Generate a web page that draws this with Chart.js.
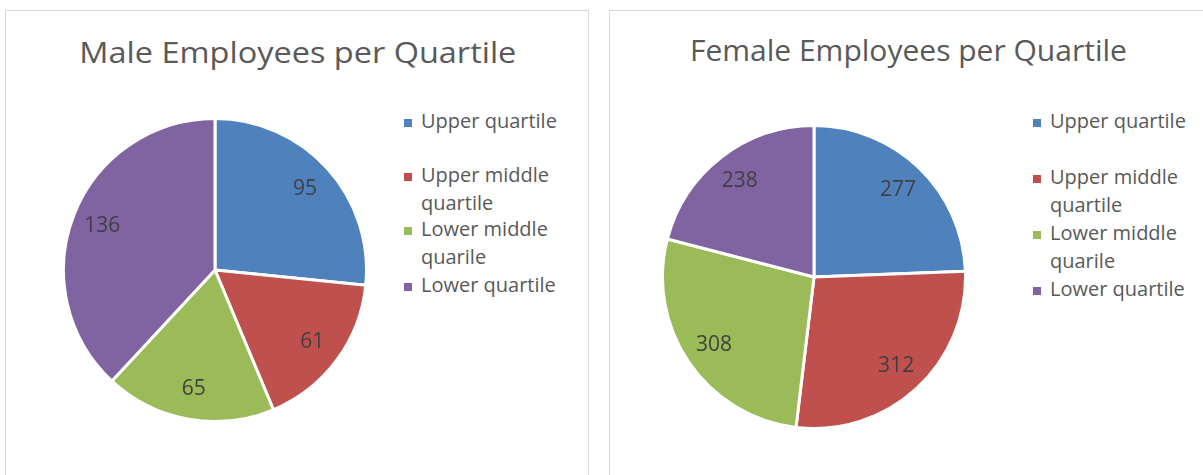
<!DOCTYPE html>
<html>
<head>
<meta charset="utf-8">
<script src="https://cdn.jsdelivr.net/npm/chart.js@4/dist/chart.umd.min.js"></script>
<style>
  html, body { margin: 0; padding: 0; background: #fff; }
  body { width: 1203px; height: 475px; position: relative; overflow: hidden; font-family: "Open Sans", sans-serif; }
  .panel { position: absolute; border: 1px solid #d9d9d9; box-sizing: border-box; background: #fff; }
  .title { position: absolute; white-space: nowrap; color: #595959; font-size: 30px; line-height: 30px; transform-origin: center top; }
  .leg { position: absolute; color: #595959; font-size: 20px; line-height: 28px; }
  .sq { position: absolute; width: 8px; height: 8px; }
  canvas.pie { position: absolute; }
</style>
</head>
<body>
<div class="panel" style="left:5px; top:10px; width:584px; height:480px;"></div>
<div class="panel" style="left:609px; top:10px; width:620px; height:480px;"></div>

<canvas id="male" class="pie" width="306" height="306" style="left:61.5px; top:117px; width:306px; height:306px;"></canvas>
<canvas id="female" class="pie" width="306" height="306" style="left:661px; top:124px; width:306px; height:306px;"></canvas>

<script>
// ---- data ----
const categories = ["Upper quartile", "Upper middle quartile", "Lower middle quarile", "Lower quartile"];
const maleValues = [95, 61, 65, 136];
const femaleValues = [277, 312, 308, 238];
const maleTitle = "Male Employees per Quartile";
const femaleTitle = "Female Employees per Quartile";

// ---- styles ----
const sliceColors = ["#4F81BD", "#C0504D", "#9BBB59", "#8064A2"];

// data label plugin: places value text at 0.8 of the radius along each slice's mid-angle
const valueLabels = {
  id: 'valueLabels',
  afterDatasetsDraw(chart) {
    const ctx = chart.ctx;
    const meta = chart.getDatasetMeta(0);
    const data = chart.data.datasets[0].data;
    ctx.save();
    ctx.font = '21px "Open Sans", sans-serif';
    ctx.fillStyle = '#404040';
    ctx.textAlign = 'center';
    ctx.textBaseline = 'middle';
    meta.data.forEach((arc, i) => {
      const p = arc.getProps(['x', 'y', 'startAngle', 'endAngle', 'outerRadius'], true);
      const mid = (p.startAngle + p.endAngle) / 2;
      const r = p.outerRadius * 0.8;
      ctx.fillText(String(data[i]), p.x + Math.cos(mid) * r, p.y + Math.sin(mid) * r);
    });
    ctx.restore();
  }
};

function makePie(id, values) {
  return new Chart(document.getElementById(id), {
    type: 'pie',
    data: {
      labels: categories,
      datasets: [{
        data: values,
        backgroundColor: sliceColors,
        borderColor: '#ffffff',
        borderWidth: 3,
        hoverOffset: 0
      }]
    },
    options: {
      responsive: false,
      animation: false,
      events: [],
      layout: { padding: 0 },
      plugins: { legend: { display: false }, title: { display: false }, tooltip: { enabled: false } }
    },
    plugins: [valueLabels]
  });
}

makePie('male', maleValues);
makePie('female', femaleValues);

// ---- titles (HTML text) ----
function addTitle(text, centerX, baseline, targetWidth) {
  const d = document.createElement('div');
  d.className = 'title';
  d.textContent = text;
  document.body.appendChild(d);
  const w = d.getBoundingClientRect().width;
  const s = targetWidth / w;
  d.style.left = (centerX - w / 2) + 'px';
  d.style.top = (baseline - 0.888 * 30) + 'px';
  d.style.transform = 'scaleX(' + s.toFixed(4) + ')';
}
addTitle(maleTitle, 297.5, 63.3, 437);
addTitle(femaleTitle, 908.5, 61.7, 437);

// ---- legends (HTML text) ----
function addLegend(sqX, textX, textWidth, firstBaselines) {
  categories.forEach((c, i) => {
    const top = firstBaselines[i] - 21.76;
    const t = document.createElement('div');
    t.className = 'leg';
    t.style.left = textX + 'px';
    t.style.top = top + 'px';
    t.style.width = textWidth + 'px';
    t.textContent = c;
    document.body.appendChild(t);
    const s = document.createElement('div');
    s.className = 'sq';
    s.style.background = sliceColors[i];
    s.style.left = sqX + 'px';
    s.style.top = (firstBaselines[i] - 6.5 - 4) + 'px';
    document.body.appendChild(s);
  });
}
addLegend(404, 421, 160, [129, 183, 237, 293]);
addLegend(1033, 1050, 150, [129, 185, 241, 297]);
</script>
</body>
</html>
